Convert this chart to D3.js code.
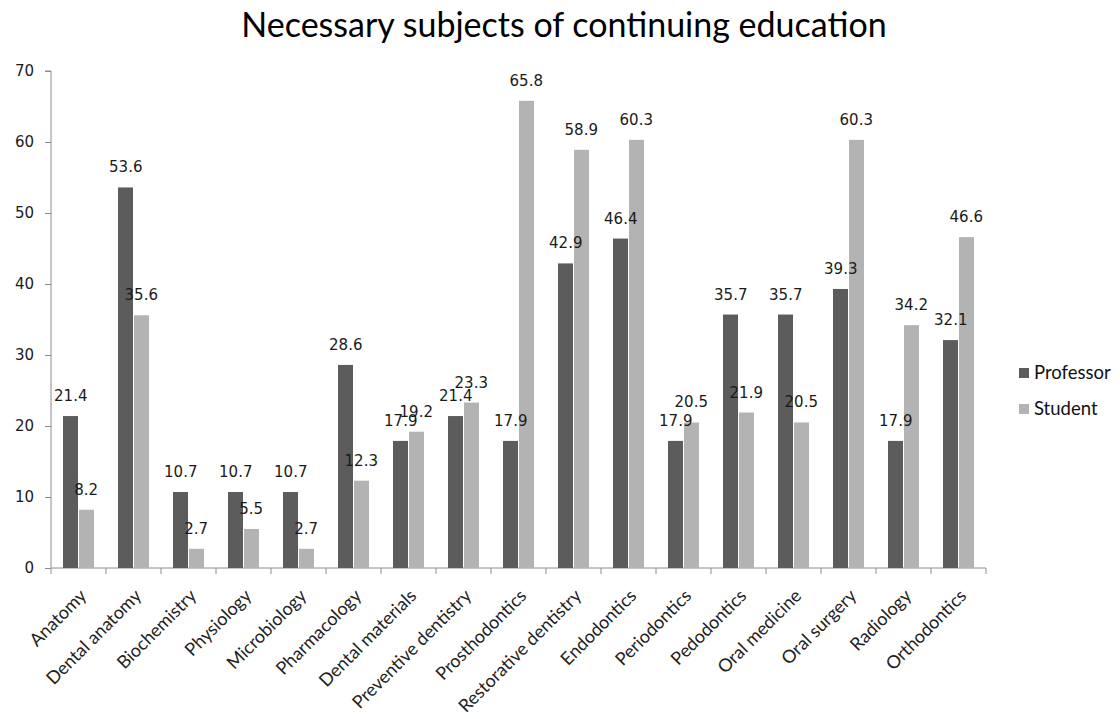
<!DOCTYPE html>
<html><head><meta charset="utf-8">
<script src="https://cdn.jsdelivr.net/npm/d3@7"></script>
<style>body{margin:0;background:#fff}svg{display:block}</style>
</head><body>
<svg id="c" width="1120" height="719"></svg>
<script>
const categories = ["Anatomy","Dental anatomy","Biochemistry","Physiology","Microbiology","Pharmacology","Dental materials","Preventive dentistry","Prosthodontics","Restorative dentistry","Endodontics","Periodontics","Pedodontics","Oral medicine","Oral surgery","Radiology","Orthodontics"];
const seriesNames = ["Professor","Student"];
const professor = [21.4,53.6,10.7,10.7,10.7,28.6,17.9,21.4,17.9,42.9,46.4,17.9,35.7,35.7,39.3,17.9,32.1];
const student = [8.2,35.6,2.7,5.5,2.7,12.3,19.2,23.3,65.8,58.9,60.3,20.5,21.9,20.5,60.3,34.2,46.6];
const yTicks = [0,10,20,30,40,50,60,70];
const chartTitle = "Necessary subjects of continuing education";
const colors = ["#5c5c5c","#b3b3b3"];

const svg = d3.select("#c");
const pL = 51, pR = 986, pT = 71, pB = 568;
const x = d3.scaleBand().domain(categories).range([pL, pR]).padding(0);
const x1 = d3.scaleBand().domain(seriesNames).range([12, 43]).padding(0);
const y = d3.scaleLinear().domain([0,70]).range([pB, pT]);

svg.append("text").attr("x", 564).attr("y", 37).attr("text-anchor","middle")
  .style("font-family","Lato, 'Open Sans', sans-serif").style("font-size","34px").attr("fill","#000").text(chartTitle);

// y axis
const ya = svg.append("g").attr("transform",`translate(${pL},0)`)
  .call(d3.axisLeft(y).tickValues(yTicks).tickSize(6).tickPadding(11).tickFormat(d3.format("d")));
ya.select(".domain").attr("stroke","#8c8c8c").attr("d",`M-6,${pT}H0V${pB}`);
ya.selectAll(".tick line").attr("stroke","#8c8c8c");
ya.selectAll(".tick text").style("font-family","'DejaVu Sans', Verdana, sans-serif").style("font-size","15px").attr("fill","#1a1a1a");

// x axis line and ticks
const xg = svg.append("g");
xg.append("line").attr("x1",pL).attr("x2",pR).attr("y1",pB).attr("y2",pB).attr("stroke","#8c8c8c");
const bounds = categories.map(c => x(c)).concat([pR]);
xg.selectAll("line.t").data(bounds).join("line").attr("class","t")
  .attr("x1",d=>d).attr("x2",d=>d).attr("y1",pB).attr("y2",pB+6).attr("stroke","#8c8c8c");

// category labels
xg.selectAll("text.cat").data(categories).join("text").attr("class","cat")
  .attr("transform", d => `translate(${x(d)+x.bandwidth()/2+9},${597}) rotate(-45)`)
  .attr("text-anchor","end")
  .style("font-family","Lato, 'Open Sans', sans-serif").style("font-size","18px").attr("fill","#222")
  .text(d=>d);

const data = [professor, student];
const rowsAll = [];
seriesNames.forEach((s, si) => {
  const rows = categories.map((c,i)=>({c, s, si, v:data[si][i]}));
  rowsAll.push(...rows);
  svg.append("g").selectAll("rect").data(rows).join("rect")
    .attr("x", d => x(d.c) + x1(s) + (si===1?0.5:0))
    .attr("width", x1.bandwidth() - 0.5)
    .attr("y", d => y(d.v))
    .attr("height", d => pB - y(d.v))
    .attr("fill", colors[si]);
});
svg.append("g").selectAll("text").data(rowsAll).join("text")
  .attr("x", d => x(d.c) + x1(d.s) + x1.bandwidth()/2)
  .attr("y", d => y(d.v) - 15)
  .attr("text-anchor","middle")
  .style("font-family","'DejaVu Sans', Verdana, sans-serif").style("font-size","15px").attr("fill","#1a1a1a")
  .text(d => d3.format(".1f")(d.v));

// legend
const lg = svg.append("g");
seriesNames.forEach((s, i) => {
  const yy = 373 + i*36;
  lg.append("rect").attr("x",1019).attr("y",yy-5).attr("width",10).attr("height",10).attr("fill",colors[i]);
  lg.append("text").attr("x",1034).attr("y",yy+6)
    .style("font-family","Lato, 'Open Sans', sans-serif").style("font-size","18.5px").attr("fill","#111").text(s);
});
</script>
</body></html>
